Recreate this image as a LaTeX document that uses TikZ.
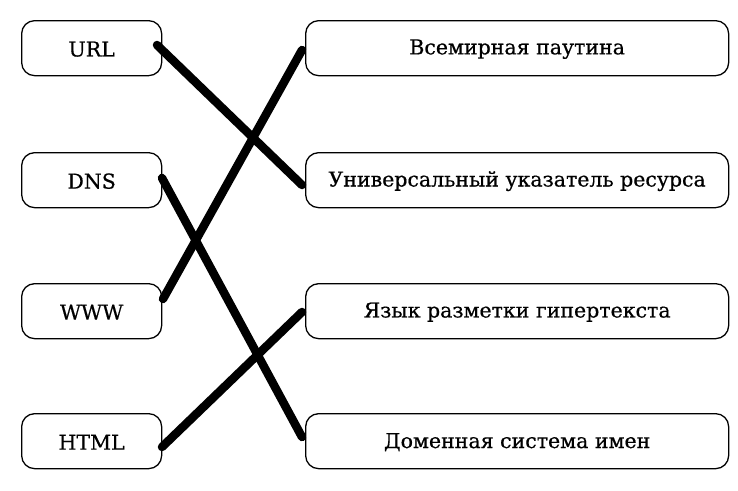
\documentclass[tikz,border=0pt]{standalone}
\usepackage{fontspec}
\setmainfont{DejaVu Serif}
\newfontfamily\lblfont[FakeBold=0.6]{DejaVu Serif}
\begin{document}
\begin{tikzpicture}[x=1pt,y=-1pt,
  box/.style={draw, line width=1.3pt, rounded corners=13pt, inner sep=0pt, anchor=north west},
  link/.style={line width=8.5pt, line cap=round},
  lbl/.style={font=\lblfont\fontsize{20.5}{24}\selectfont, yshift=-1pt}]
\useasboundingbox (0,0) rectangle (738,490);
\fill[white] (0,0) rectangle (738,490);
% left boxes
\node[box, minimum width=140pt, minimum height=55pt] (url) at (21,20) {};
\node[lbl] at (url.center) {URL};
\node[box, minimum width=140pt, minimum height=55pt] (dns) at (21,152) {};
\node[lbl] at (dns.center) {DNS};
\node[box, minimum width=140pt, minimum height=55pt] (www) at (21,283) {};
\node[lbl] at (www.center) {WWW};
\node[box, minimum width=140pt, minimum height=55pt] (html) at (21,413) {};
\node[lbl] at (html.center) {HTML};
% right boxes
\node[box, minimum width=423pt, minimum height=55pt] (r1) at (305,20) {};
\node[lbl] at (r1.center) {Всемирная паутина};
\node[box, minimum width=423pt, minimum height=55pt] (r2) at (305,152) {};
\node[lbl] at (r2.center) {Универсальный указатель ресурса};
\node[box, minimum width=423pt, minimum height=55pt] (r3) at (305,283) {};
\node[lbl] at (r3.center) {Язык разметки гипертекста};
\node[box, minimum width=423pt, minimum height=55pt] (r4) at (305,413) {};
\node[lbl] at (r4.center) {Доменная система имен};
% connectors
\coordinate (a1) at (157,45);  \coordinate (b1) at (302,185);
\coordinate (a2) at (163,299); \coordinate (b2) at (302,50);
\coordinate (a3) at (162,178); \coordinate (b3) at (302,437);
\coordinate (a4) at (162,447); \coordinate (b4) at (302,312);
\draw[link] (a1) -- (b1);
\draw[link] (a2) -- (b2);
\draw[link] (a3) -- (b3);
\draw[link] (a4) -- (b4);
\end{tikzpicture}
\end{document}
